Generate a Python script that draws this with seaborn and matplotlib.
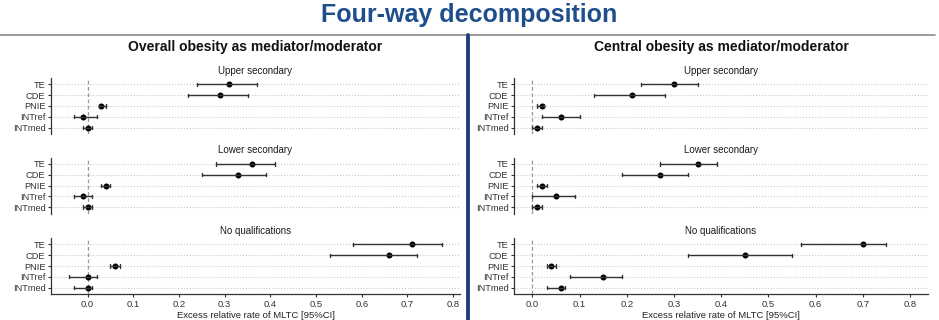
import matplotlib
matplotlib.use("Agg")
import matplotlib.pyplot as plt
import seaborn as sns
import pandas as pd

effects = ["TE", "CDE", "PNIE", "INTref", "INTmed"]
levels = ["Upper secondary", "Lower secondary", "No qualifications"]

# overall obesity: estimate, lower, upper (one row per education level)
overall_est = [[0.31, 0.29, 0.03, -0.01, 0.0],
               [0.36, 0.33, 0.04, -0.01, 0.0],
               [0.71, 0.66, 0.06, 0.0, 0.0]]
overall_lo = [[0.24, 0.22, 0.025, -0.03, -0.01],
              [0.28, 0.25, 0.03, -0.03, -0.01],
              [0.58, 0.53, 0.05, -0.04, -0.03]]
overall_hi = [[0.37, 0.35, 0.04, 0.02, 0.01],
              [0.41, 0.39, 0.05, 0.01, 0.01],
              [0.775, 0.72, 0.07, 0.02, 0.01]]

# central obesity
central_est = [[0.30, 0.21, 0.02, 0.06, 0.01],
               [0.35, 0.27, 0.02, 0.05, 0.01],
               [0.70, 0.45, 0.04, 0.15, 0.06]]
central_lo = [[0.23, 0.13, 0.01, 0.02, 0.0],
              [0.27, 0.19, 0.01, 0.0, 0.0],
              [0.57, 0.33, 0.03, 0.08, 0.03]]
central_hi = [[0.35, 0.28, 0.025, 0.10, 0.02],
              [0.39, 0.33, 0.03, 0.09, 0.02],
              [0.75, 0.55, 0.05, 0.19, 0.07]]

panel_titles = ["Overall obesity as mediator/moderator",
                "Central obesity as mediator/moderator"]
xticks = [0.0, 0.1, 0.2, 0.3, 0.4, 0.5, 0.6, 0.7, 0.8]

sns.set_style("white")
plt.rcParams["font.family"] = ["Liberation Sans", "DejaVu Sans"]

W, H = 939, 320
fig = plt.figure(figsize=(W / 100, H / 100), dpi=100)


def px_rect(l, t, w, h):
    return [l / W, 1 - (t + h) / H, w / W, h / H]


def long_table(est, lo, hi):
    rows = []
    for i, lev in enumerate(levels):
        for j, eff in enumerate(effects):
            for v in (lo[i][j], est[i][j], hi[i][j]):
                rows.append({"level": lev, "effect": eff, "value": v})
    return pd.DataFrame(rows)


panels = [
    (long_table(overall_est, overall_lo, overall_hi), 51, 409, (-0.08, 0.815)),
    (long_table(central_est, central_lo, central_hi), 514, 414, (-0.039, 0.838)),
]
tops = [78, 157.5, 238]
ax_h = 56

for p, (df, left, width, xlim) in enumerate(panels):
    for k, lev in enumerate(levels):
        ax = fig.add_axes(px_rect(left, tops[k], width, ax_h))
        sub = df[df["level"] == lev]
        ax.axvline(0, color="#999999", ls=(0, (3, 2)), lw=0.9, zorder=1)
        sns.pointplot(data=sub, x="value", y="effect", order=effects,
                      estimator="median",
                      errorbar=lambda v: (v.min(), v.max()),
                      color="black", linestyle="none", markersize=2.3,
                      capsize=0.3, err_kws={"linewidth": 1.0, "color": "#333333"},
                      ax=ax)
        ax.set_xlim(*xlim)
        ax.set_ylim(4.6, -0.6)
        ax.grid(axis="y", linestyle=":", color="#c8c8c8", lw=0.8)
        ax.set_axisbelow(True)
        ax.set_ylabel("")
        ax.set_xlabel("")
        ax.set_title(lev, fontsize=7, color="#1a1a1a", pad=3)
        for s in ["top", "right"]:
            ax.spines[s].set_visible(False)
        ax.spines["left"].set_color("#333333")
        ax.spines["left"].set_linewidth(0.9)
        ax.tick_params(axis="y", labelsize=6.7, length=2.5, width=0.8,
                       colors="#333333", pad=1.5, left=True)
        ax.set_xticks(xticks)
        if k < 2:
            ax.spines["bottom"].set_visible(False)
            ax.tick_params(axis="x", bottom=False, labelbottom=False)
        else:
            ax.spines["bottom"].set_color("#333333")
            ax.spines["bottom"].set_linewidth(0.9)
            ax.tick_params(axis="x", labelsize=6.8, length=2.5, width=0.8,
                           colors="#333333", pad=1.5, bottom=True)
            ax.set_xticklabels([f"{t:.1f}" for t in xticks])
            ax.set_xlabel("Excess relative rate of MLTC [95%CI]",
                          fontsize=6.8, color="#222222", labelpad=2)

    cx = (left + width / 2) / W
    fig.text(cx, 1 - 47 / H, panel_titles[p], ha="center", va="center",
             fontsize=10, fontweight="bold", color="#111111")

fig.text(469 / W, 1 - 15 / H, "Four-way decomposition", ha="center",
         va="center", fontsize=18, fontweight="bold", color="#1F4E8C")
fig.add_artist(plt.Line2D([0, 935 / W], [1 - 35 / H, 1 - 35 / H],
                          transform=fig.transFigure, color="#8a8a8a", lw=1.2))
fig.add_artist(plt.Line2D([468 / W, 468 / W], [0, 1 - 35 / H],
                          transform=fig.transFigure, color="#1F3F7F", lw=2.8))

fig.savefig("out.png", dpi=100)
